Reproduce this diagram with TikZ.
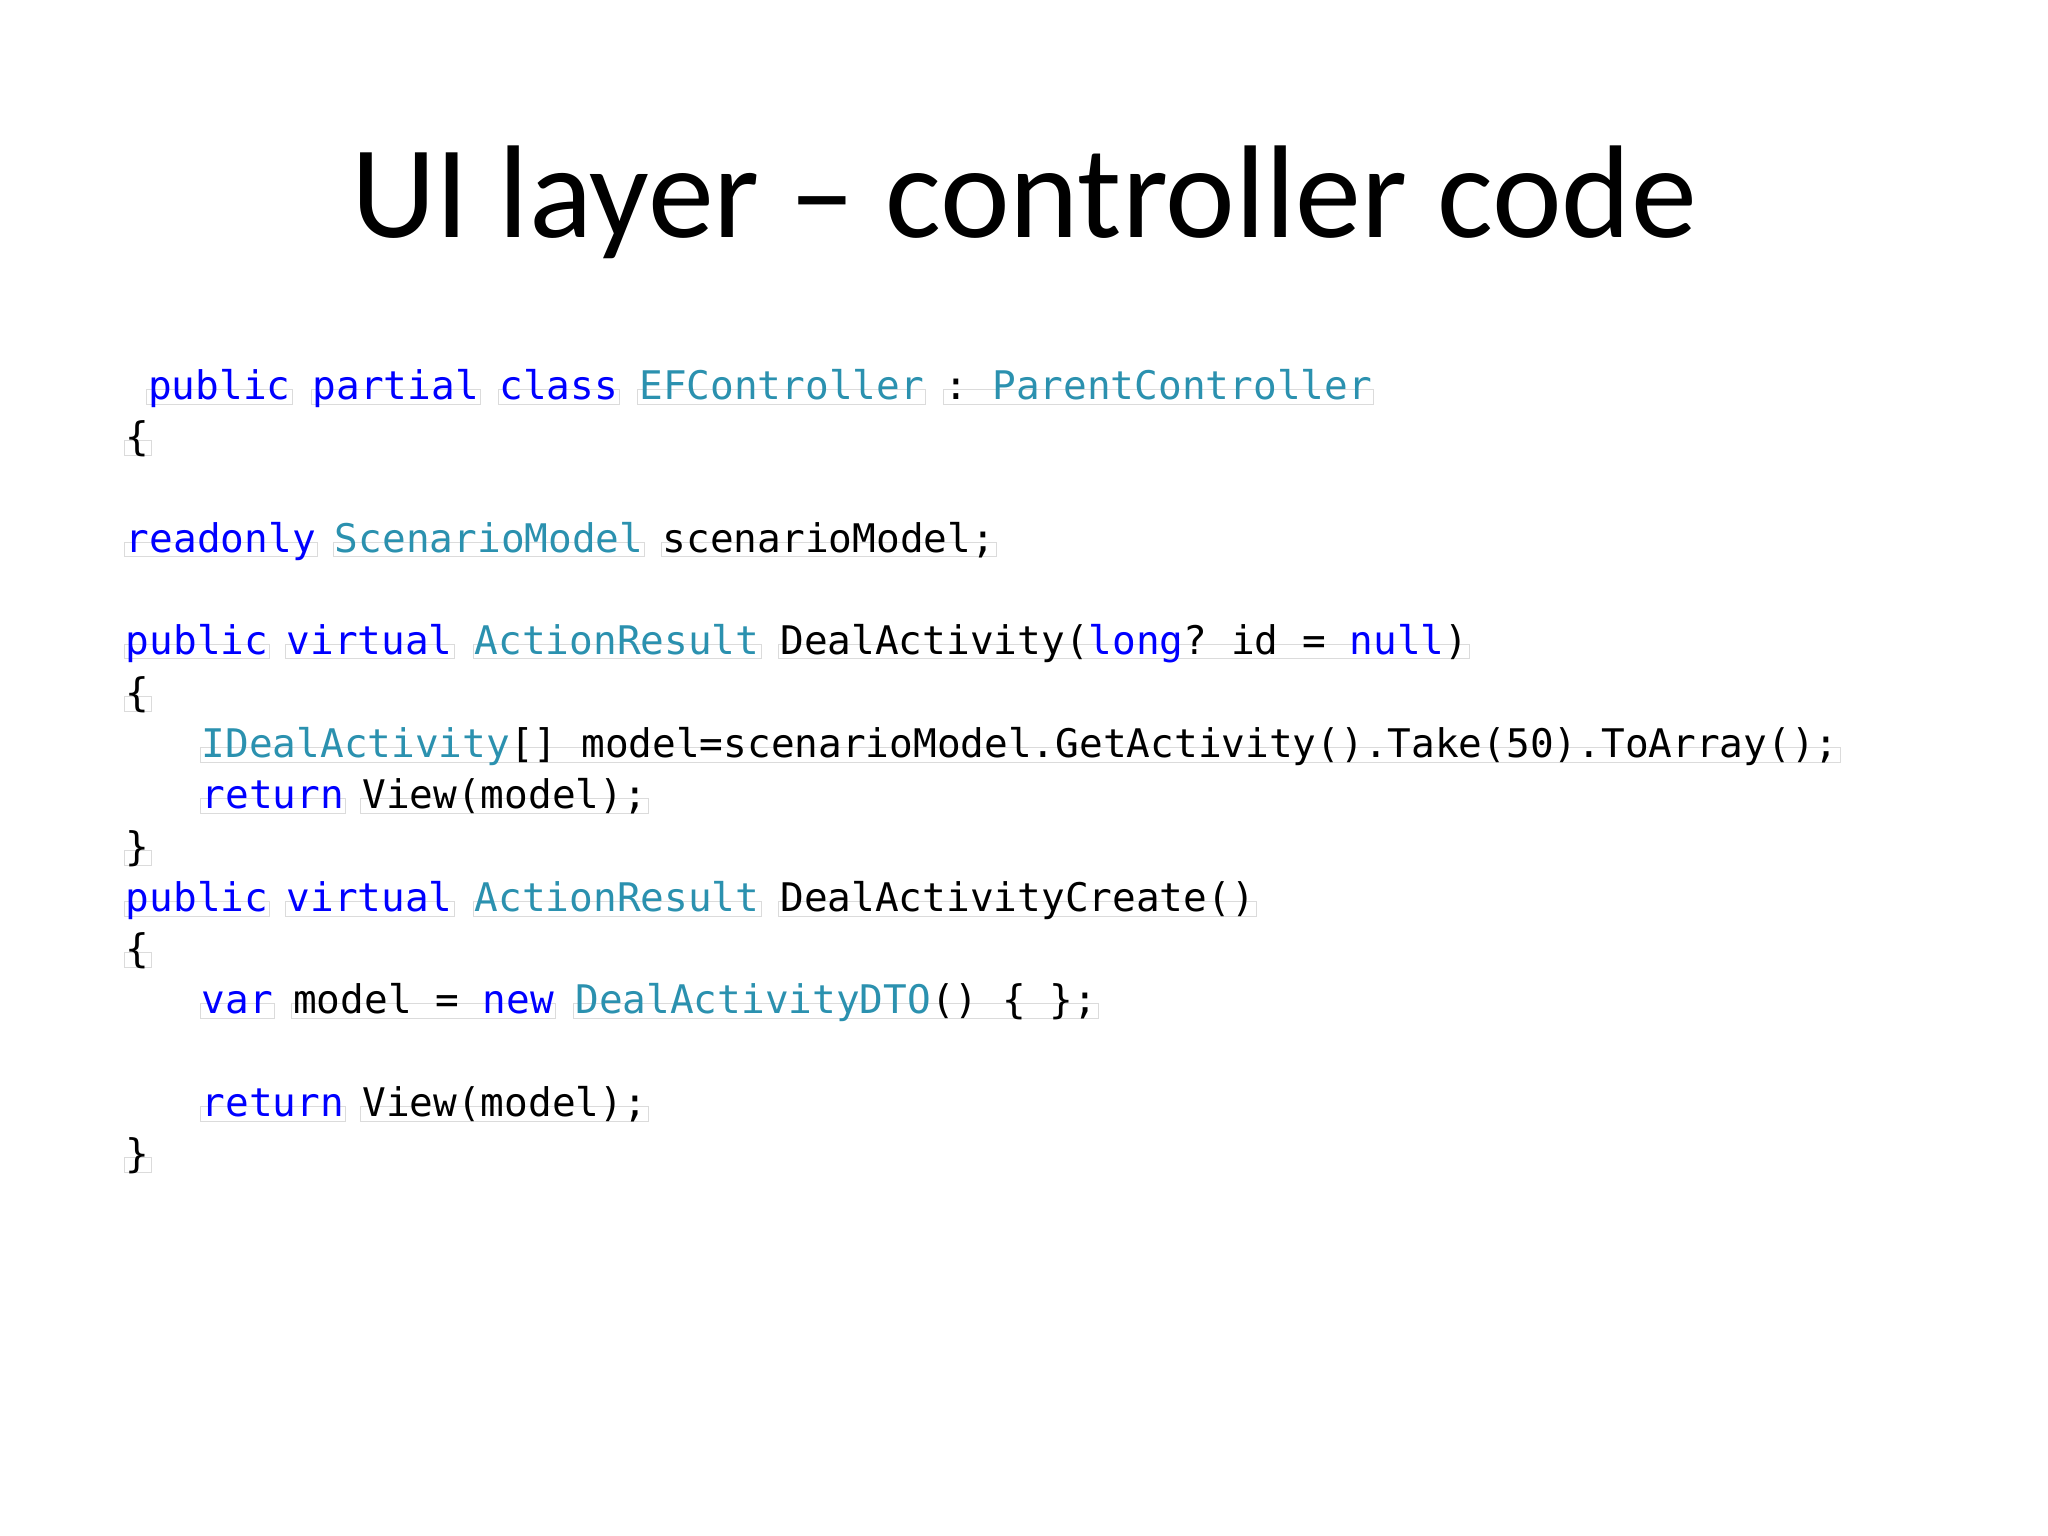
\documentclass[tikz,border=0pt]{standalone}
\usepackage{fontspec}
\setmainfont{Carlito}
\setmonofont{DejaVu Sans Mono}
\definecolor{kw}{RGB}{0,0,255}
\definecolor{ty}{RGB}{43,145,175}
\begin{document}
\begin{tikzpicture}[x=1.306pt,y=-1.306pt,
  tok/.style={draw=black!14,line width=0.8pt,anchor=base west,inner xsep=1.5pt,inner ysep=2pt,
    font=\fontsize{39.4}{44}\selectfont\ttfamily,text height=0.8em,text depth=0.24em},
  k/.style={tok,text=kw},t/.style={tok,text=ty},p/.style={tok,text=black}]
\useasboundingbox[fill=white] (0,0) rectangle (1568,1176);
\node[font=\fontsize{132}{140}\selectfont] (title) at (784,155) {UI layer – controller code};
% line 1
\node[k] (a1) at (112,306) {public};
\node[k] (a2) at (238,306) {partial};
\node[k] (a3) at (381,306) {class};
\node[t] (a4) at (488,306) {EFController};
\node[p] (a5) at (722,306) {: \textcolor{ty}{ParentController}};
\node[p] (b1) at (95,345) {\{};
\node[k] (c1) at (95,423) {readonly};
\node[t] (c2) at (255,423) {ScenarioModel};
\node[p] (c3) at (506,423) {scenarioModel;};
\node[k] (d1) at (95,501) {public};
\node[k] (d2) at (218,501) {virtual};
\node[t] (d3) at (362,501) {ActionResult};
\node[p] (d4) at (596,501) {DealActivity(\textcolor{kw}{long}? id = \textcolor{kw}{null})};
\node[p] (e1) at (95,541) {\{};
\node[p] (f1) at (153,580) {\textcolor{ty}{IDealActivity}[] model=scenarioModel.GetActivity().Take(50).ToArray();};
\node[k] (g1) at (153,619) {return};
\node[p] (g2) at (276,619) {View(model);};
\node[p] (h1) at (95,659) {\}};
\node[k] (i1) at (95,698) {public};
\node[k] (i2) at (218,698) {virtual};
\node[t] (i3) at (362,698) {ActionResult};
\node[p] (i4) at (596,698) {DealActivityCreate()};
\node[p] (j1) at (95,737) {\{};
\node[k] (k1) at (153,776) {var};
\node[p] (k2) at (223,776) {model = \textcolor{kw}{new}};
\node[p] (k3) at (439,776) {\textcolor{ty}{DealActivityDTO}() \{ \};};
\node[k] (l1) at (153,855) {return};
\node[p] (l2) at (276,855) {View(model);};
\node[p] (m1) at (95,894) {\}};
\end{tikzpicture}
\end{document}
